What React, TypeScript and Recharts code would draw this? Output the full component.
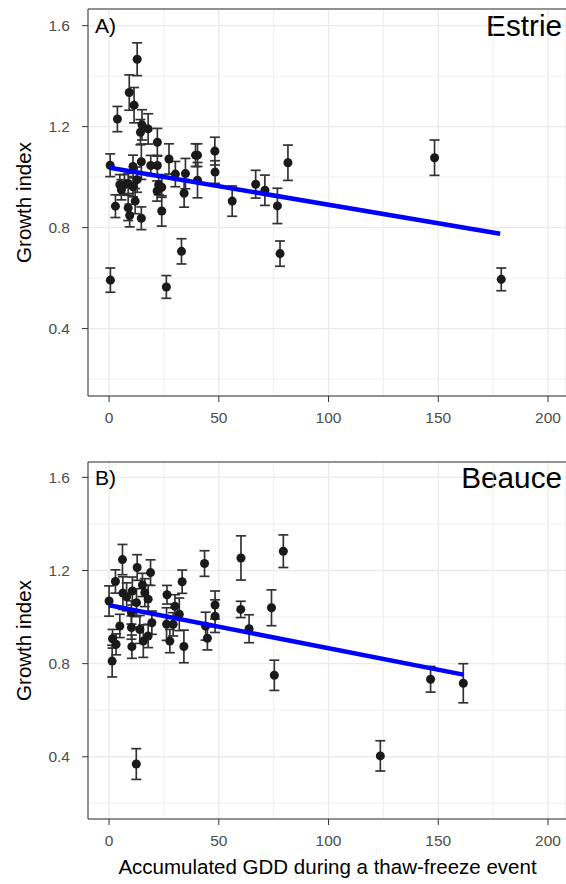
import React from 'react'
import {
  ScatterChart,
  Scatter,
  XAxis,
  YAxis,
  ZAxis,
  CartesianGrid,
  ErrorBar,
  ReferenceLine,
} from 'recharts'

// Estrie (panel A)
const estrieGdd = [
  0.5, 0.6, 2.9, 3.8, 4.9, 5.6, 7.0, 8.7, 8.7, 9.2, 9.4, 10.9, 10.9, 11.4, 11.9, 12.8, 12.8, 14.3, 14.7, 14.7,
  15.0, 17.8, 19.0, 22.0, 22.0, 21.9, 22.6, 24.0, 24.0, 26.1, 27.3, 30.2, 33.0, 34.2, 34.8, 39.4, 40.3, 40.3,
  48.2, 48.3, 56.1, 66.8, 71.0, 76.7, 77.9, 81.5, 148.3, 178.7,
]
const estrieGrowth = [
  1.047, 0.592, 0.885, 1.23, 0.97, 0.95, 0.97, 0.975, 0.878, 1.335, 0.848, 1.042, 0.962, 1.285, 0.905, 1.467, 0.99,
  1.178, 1.061, 0.837, 1.207, 1.191, 1.046, 1.138, 1.046, 0.945, 0.97, 0.96, 0.866, 0.565, 1.072, 1.012, 0.706,
  0.936, 1.014, 1.087, 1.087, 0.988, 1.103, 1.02, 0.905, 0.972, 0.948, 0.886, 0.697, 1.057, 1.077, 0.595,
]
const estrieErr = [
  0.045, 0.048, 0.045, 0.05, 0.04, 0.04, 0.04, 0.04, 0.05, 0.07, 0.045, 0.045, 0.04, 0.07, 0.05, 0.065, 0.05, 0.05,
  0.07, 0.045, 0.06, 0.06, 0.04, 0.055, 0.04, 0.04, 0.04, 0.04, 0.06, 0.045, 0.06, 0.05, 0.05, 0.055, 0.06, 0.045,
  0.045, 0.07, 0.055, 0.045, 0.06, 0.055, 0.06, 0.07, 0.05, 0.07, 0.07, 0.045,
]
const estrieFitGdd = [0.3, 178.2]
const estrieFitGrowth = [1.037, 0.776]

// Beauce (panel B)
const beauceGdd = [
  0.0, 1.4, 1.6, 2.9, 3.2, 4.9, 6.1, 6.3, 8.0, 10.2, 10.2, 10.4, 10.6, 12.5, 12.4, 12.8, 14.0, 15.2, 15.6, 16.3,
  17.8, 17.8, 18.9, 19.5, 26.4, 26.2, 27.7, 29.2, 30.0, 32.0, 33.3, 34.1, 43.5, 44.0, 44.8, 48.3, 48.3, 60.1, 60.0,
  63.8, 74.0, 75.3, 79.4, 123.6, 146.5, 161.4,
]
const beauceGrowth = [
  1.069, 0.811, 0.907, 1.153, 0.883, 0.962, 1.247, 1.103, 1.087, 1.02, 0.955, 0.873, 1.112, 1.062, 0.369, 1.213,
  0.947, 1.138, 0.897, 1.105, 1.077, 0.919, 1.191, 0.976, 1.096, 0.97, 0.897, 0.969, 1.046, 1.012, 1.152, 0.874,
  1.23, 0.961, 0.909, 1.052, 1.004, 1.254, 1.033, 0.95, 1.04, 0.75, 1.283, 0.404, 0.733, 0.716,
]
const beauceErr = [
  0.065, 0.068, 0.04, 0.05, 0.045, 0.05, 0.065, 0.07, 0.06, 0.05, 0.05, 0.05, 0.06, 0.06, 0.066, 0.055, 0.06, 0.05,
  0.07, 0.06, 0.06, 0.05, 0.055, 0.05, 0.04, 0.07, 0.05, 0.05, 0.05, 0.07, 0.05, 0.07, 0.055, 0.06, 0.05, 0.06,
  0.07, 0.095, 0.035, 0.06, 0.077, 0.065, 0.07, 0.065, 0.055, 0.084,
]
const beauceFitGdd = [0, 161.4]
const beauceFitGrowth = [1.051, 0.753]

const xTicks = [0, 50, 100, 150, 200]
const xMinor = [25, 75, 125, 175]
const yTicks = [0.4, 0.8, 1.2, 1.6]
const yMinor = [0.2, 0.6, 1.0, 1.4]

const X_DOMAIN: [number, number] = [-9.6, 208.2]
const Y_DOMAIN: [number, number] = [0.133, 1.666]
const FONT = '"Liberation Sans", Arial, Helvetica, sans-serif'

const toPoints = (xs: number[], ys: number[], errs?: number[]) =>
  xs.map((x, i) => ({ x, y: ys[i], err: errs ? errs[i] : 0 }))

function Panel({ tag, site, points, fit, height, marginTop, axisHeight, xTitle }: any) {
  const plotBottom = height - axisHeight
  const plotH = plotBottom - marginTop
  const yOf = (v: number) => marginTop + ((Y_DOMAIN[1] - v) / (Y_DOMAIN[1] - Y_DOMAIN[0])) * plotH
  const top = yOf(1.6)
  const midY = (marginTop + plotBottom) / 2
  return (
    <ScatterChart width={566} height={height} margin={{ top: marginTop, right: 0, bottom: 0, left: 0 }}>
      <CartesianGrid stroke="#ebebeb" strokeWidth={1.4} />
      {xMinor.map((v) => (
        <ReferenceLine key={'xm' + v} x={v} stroke="#ebebeb" strokeWidth={0.8} />
      ))}
      {yMinor.map((v) => (
        <ReferenceLine key={'ym' + v} y={v} stroke="#ebebeb" strokeWidth={0.8} />
      ))}
      <XAxis
        type="number"
        dataKey="x"
        domain={X_DOMAIN}
        ticks={xTicks}
        allowDataOverflow
        height={axisHeight}
        tickSize={6}
        tickMargin={10}
        stroke="#333"
        tick={{ fill: '#4d4d4d', fontSize: 15.5, fontFamily: FONT }}
      />
      <YAxis
        type="number"
        dataKey="y"
        domain={Y_DOMAIN}
        ticks={yTicks}
        allowDataOverflow
        width={88}
        tickSize={6}
        tickMargin={12}
        stroke="#333"
        tickFormatter={(v: number) => v.toFixed(1)}
        tick={{ fill: '#4d4d4d', fontSize: 15.5, fontFamily: FONT }}
      />
      <ZAxis range={[64, 64]} />
      <Scatter data={points} fill="#1a1a1a" isAnimationActive={false}>
        <ErrorBar dataKey="err" direction="y" width={5} stroke="#333" strokeWidth={1.7} />
      </Scatter>
      <Scatter
        data={fit}
        line={{ stroke: '#0000ff', strokeWidth: 4.5 }}
        shape={() => <g />}
        isAnimationActive={false}
      />
      <ReferenceLine y={Y_DOMAIN[1]} stroke="#333" strokeWidth={1.2} />
      <text x={95} y={top + 7.5} fontSize={21} fontFamily={FONT} fill="#000">
        {tag}
      </text>
      <text x={562} y={top + 10.7} fontSize={29.7} fontFamily={FONT} fill="#000" textAnchor="end">
        {site}
      </text>
      <text
        x={30.7}
        y={midY}
        fontSize={20.5}
        fontFamily={FONT}
        fill="#000"
        textAnchor="middle"
        transform={`rotate(-90 30.7 ${midY})`}
      >
        Growth index
      </text>
      {xTitle ? (
        <text x={327.5} y={height - 10} fontSize={20.5} fontFamily={FONT} fill="#000" textAnchor="middle">
          {xTitle}
        </text>
      ) : null}
    </ScatterChart>
  )
}

export default function App() {
  const estrie = toPoints(estrieGdd, estrieGrowth, estrieErr)
  const estrieFit = toPoints(estrieFitGdd, estrieFitGrowth)
  const beauce = toPoints(beauceGdd, beauceGrowth, beauceErr)
  const beauceFit = toPoints(beauceFitGdd, beauceFitGrowth)
  return (
    <div
      style={{
        position: 'relative',
        width: 566,
        height: 884,
        overflow: 'hidden',
        background: '#fff',
        fontFamily: FONT,
      }}
    >
      <style>{'html, body { margin: 0; padding: 0; overflow: hidden; }'}</style>
      <div style={{ position: 'absolute', left: 0, top: 0 }}>
        <Panel tag="A)" site="Estrie" points={estrie} fit={estrieFit} height={440} marginTop={9} axisHeight={44} />
      </div>
      <div style={{ position: 'absolute', left: 0, top: 440 }}>
        <Panel
          tag="B)"
          site="Beauce"
          points={beauce}
          fit={beauceFit}
          height={444}
          marginTop={22}
          axisHeight={65}
          xTitle="Accumulated GDD during a thaw-freeze event"
        />
      </div>
    </div>
  )
}
